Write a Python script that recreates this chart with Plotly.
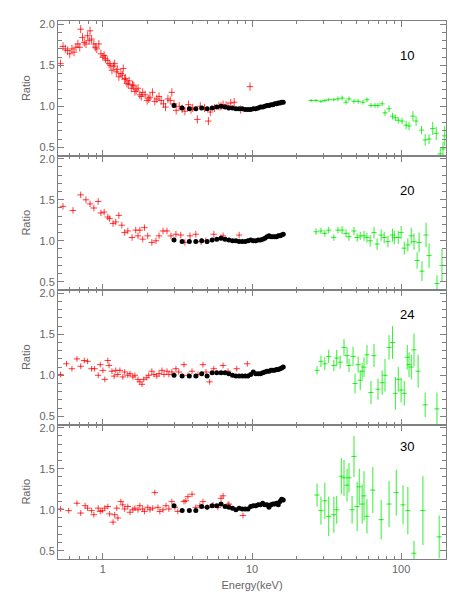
import plotly.graph_objects as go
from plotly.subplots import make_subplots

# panel labels
panel_labels = ["10", "20", "24", "30"]

# black points (same energy grid in all panels)
black_e = [3.0, 3.4, 3.8, 4.2, 4.6, 5.0, 5.4, 5.8, 6.2, 6.6, 7.0, 7.4, 7.8, 8.2, 8.6, 9.0, 9.4,
           9.8, 10.2, 10.6, 11.0, 11.4, 11.8, 12.2, 12.6, 13.0, 13.4, 13.8, 14.2, 14.6, 15.0,
           15.4, 15.8, 16.2]
black_r_10 = [1.01, 0.98, 0.97, 0.97, 0.98, 0.97, 0.98, 0.99, 1.00, 0.99, 0.98, 0.98, 0.97, 0.97,
              0.97, 0.96, 0.96, 0.96, 0.97, 0.97, 0.98, 0.99, 0.99, 1.00, 1.01, 1.01, 1.02, 1.02,
              1.03, 1.03, 1.04, 1.04, 1.05, 1.05]
black_r_20 = [1.01, 0.99, 0.99, 0.99, 1.00, 0.99, 1.01, 1.02, 1.03, 1.02, 1.01, 1.00, 1.00, 0.99,
              0.99, 0.99, 1.00, 1.01, 1.00, 1.00, 1.01, 1.01, 1.02, 1.03, 1.05, 1.06, 1.05, 1.05,
              1.05, 1.05, 1.06, 1.06, 1.07, 1.08]
black_r_24 = [1.00, 0.99, 0.99, 0.99, 1.02, 0.99, 1.03, 1.03, 1.03, 1.03, 1.02, 1.00, 0.99, 0.99,
              0.99, 0.99, 0.99, 1.01, 1.04, 1.02, 1.02, 1.02, 1.03, 1.04, 1.05, 1.05, 1.06, 1.06,
              1.06, 1.07, 1.07, 1.08, 1.09, 1.10]
black_r_30 = [1.05, 0.99, 0.99, 0.99, 1.04, 1.03, 1.05, 1.05, 1.07, 1.04, 1.03, 1.02, 1.00, 1.02,
              1.01, 1.01, 1.01, 1.04, 1.05, 1.05, 1.06, 1.06, 1.08, 1.06, 1.06, 1.03, 1.06, 1.07,
              1.07, 1.08, 1.06, 1.10, 1.13, 1.12]

# red crosses
red_e_10 = [0.52, 0.54, 0.56, 0.58, 0.60, 0.62, 0.64, 0.66, 0.68, 0.70, 0.71, 0.73, 0.75, 0.77,
            0.79, 0.81, 0.82, 0.84, 0.87, 0.89, 0.91, 0.94, 0.97, 1.00, 1.02, 1.04, 1.07, 1.10,
            1.12, 1.15, 1.18, 1.20, 1.23, 1.25, 1.28, 1.32, 1.35, 1.37, 1.40, 1.42, 1.45, 1.48,
            1.50, 1.55, 1.58, 1.61, 1.64, 1.67, 1.72, 1.77, 1.81, 1.85, 1.92, 1.98, 2.03, 2.07,
            2.15, 2.23, 2.30, 2.38, 2.46, 2.55, 2.63, 2.73, 2.83, 2.90, 3.00, 3.10, 3.25, 3.40,
            3.55, 3.75, 3.90, 4.00, 4.30, 4.50, 4.80, 5.10, 5.25, 5.60, 6.00, 6.20, 6.40, 6.70,
            6.90, 7.20, 7.60, 8.40, 9.70]
red_r_10 = [1.52, 1.73, 1.70, 1.68, 1.64, 1.70, 1.66, 1.72, 1.76, 1.72, 1.94, 1.84, 1.78, 1.76,
            1.86, 1.80, 1.92, 1.82, 1.76, 1.72, 1.70, 1.76, 1.64, 1.60, 1.62, 1.58, 1.56, 1.52,
            1.50, 1.44, 1.49, 1.52, 1.42, 1.45, 1.36, 1.40, 1.38, 1.46, 1.33, 1.34, 1.28, 1.27,
            1.31, 1.22, 1.26, 1.25, 1.18, 1.20, 1.22, 1.14, 1.12, 1.17, 1.14, 1.07, 1.09, 1.11,
            1.17, 1.06, 1.09, 1.12, 1.07, 1.03, 0.99, 1.09, 1.07, 1.17, 1.03, 0.95, 1.00, 0.97,
            0.94, 1.02, 0.96, 0.98, 0.84, 1.00, 0.98, 0.82, 0.93, 0.98, 1.00, 1.00, 1.02, 1.01,
            1.00, 1.04, 1.05, 0.96, 1.24]

red_e_20 = [0.54, 0.63, 0.71, 0.77, 0.82, 0.87, 0.93, 0.97, 1.02, 1.08, 1.11, 1.17, 1.22, 1.28,
            1.34, 1.40, 1.47, 1.57, 1.66, 1.72, 1.77, 1.85, 1.90, 2.00, 2.13, 2.27, 2.38, 2.53,
            2.69, 2.86, 3.09, 3.33, 3.55, 3.84, 4.20, 4.55, 4.90, 5.55, 6.20, 6.40, 8.20]
red_r_20 = [1.42, 1.37, 1.56, 1.50, 1.45, 1.40, 1.48, 1.34, 1.35, 1.29, 1.27, 1.21, 1.23, 1.31,
            1.19, 1.10, 1.12, 1.04, 1.13, 1.06, 1.13, 1.02, 1.16, 1.06, 0.98, 1.00, 1.06, 1.12,
            1.12, 1.06, 1.08, 1.07, 0.98, 1.06, 1.08, 0.99, 1.00, 1.08, 1.04, 1.06, 1.07]

red_e_24 = [0.52, 0.57, 0.62, 0.67, 0.71, 0.75, 0.79, 0.84, 0.88, 0.93, 0.96, 1.00, 1.03, 1.08,
            1.10, 1.15, 1.19, 1.22, 1.26, 1.30, 1.36, 1.40, 1.47, 1.52, 1.59, 1.64, 1.72, 1.77,
            1.83, 1.88, 1.97, 2.03, 2.13, 2.20, 2.30, 2.38, 2.49, 2.57, 2.69, 2.77, 2.90, 3.09,
            3.23, 3.50, 3.72, 3.96, 4.34, 4.69, 4.92, 5.20, 5.55, 6.40, 6.90, 7.90, 9.30]
red_r_24 = [1.01, 1.14, 1.08, 1.20, 1.11, 1.18, 1.17, 1.08, 1.08, 1.00, 1.13, 1.06, 0.95, 1.18,
            1.12, 1.05, 0.99, 1.06, 1.01, 1.06, 0.98, 1.04, 1.00, 1.02, 0.98, 1.00, 0.95, 0.92,
            0.89, 0.95, 0.97, 1.00, 1.05, 1.01, 0.99, 1.02, 1.06, 1.01, 1.05, 1.01, 1.04, 1.08,
            1.04, 1.13, 1.00, 1.05, 1.01, 1.13, 1.04, 0.92, 1.08, 1.12, 1.05, 1.08, 1.14]

red_e_30 = [0.52, 0.59, 0.67, 0.71, 0.76, 0.79, 0.84, 0.87, 0.93, 0.96, 0.99, 1.03, 1.08, 1.11,
            1.17, 1.20, 1.24, 1.26, 1.32, 1.36, 1.40, 1.47, 1.52, 1.59, 1.64, 1.72, 1.77, 1.85,
            1.90, 2.00, 2.07, 2.16, 2.23, 2.34, 2.41, 2.53, 2.65, 2.77, 2.90, 3.04, 3.18, 3.50,
            3.60, 3.72, 3.96, 4.20, 4.47, 4.69, 5.00, 5.47, 5.90, 6.20, 6.40, 6.90, 7.00, 8.70]
red_r_30 = [1.01, 0.99, 1.08, 0.96, 1.05, 1.02, 0.99, 0.94, 1.02, 0.98, 0.99, 1.02, 1.04, 0.95,
            0.85, 0.94, 1.02, 0.90, 1.10, 1.06, 1.01, 1.04, 0.97, 1.00, 1.02, 1.00, 1.05, 1.01,
            0.98, 1.03, 1.00, 1.02, 1.21, 1.03, 0.98, 1.00, 1.05, 1.01, 1.10, 1.03, 0.98, 1.10,
            1.11, 1.16, 1.19, 1.03, 1.05, 1.10, 1.03, 1.06, 1.03, 1.14, 1.17, 1.06, 1.07, 0.93]

# green crosses
green_e_10 = [24.9, 26.9, 29.0, 30.8, 32.7, 35.4, 37.7, 40.2, 42.7, 44.7, 48.3, 51.5, 55.5, 59.0,
              62.8, 66.8, 70.0, 74.6, 78.0, 83.0, 87.6, 91.5, 95.7, 101.5, 108, 113, 120, 126,
              137, 145, 154, 163, 172, 183, 191, 196]
green_r_10 = [1.07, 1.07, 1.06, 1.07, 1.08, 1.08, 1.09, 1.10, 1.05, 1.09, 1.06, 1.06, 1.05, 1.08,
              1.01, 1.01, 1.01, 1.03, 0.92, 0.97, 0.88, 0.86, 0.83, 0.82, 0.77, 0.76, 0.88, 0.82,
              0.71, 0.59, 0.60, 0.73, 0.67, 0.42, 0.48, 0.64]
green_err_10 = [0.02, 0.02, 0.02, 0.02, 0.02, 0.02, 0.03, 0.03, 0.03, 0.03, 0.03, 0.03, 0.03, 0.03,
                0.03, 0.03, 0.03, 0.03, 0.04, 0.04, 0.04, 0.04, 0.04, 0.04, 0.05, 0.05, 0.06, 0.06,
                0.05, 0.07, 0.06, 0.08, 0.08, 0.06, 0.09, 0.12]

green_e_20 = [26.9, 29.0, 30.8, 32.7, 35.4, 37.7, 40.2, 42.7, 44.7, 48.3, 50.7, 53.2, 56.4, 59.0,
              62.0, 65.8, 69.0, 73.5, 77.0, 81.6, 87.6, 90.0, 95.7, 100, 105, 111, 117, 122, 128,
              132, 138, 147, 154, 174, 188]
green_r_20 = [1.11, 1.12, 1.09, 1.13, 1.04, 1.13, 1.13, 1.09, 1.05, 1.12, 1.04, 1.06, 1.06, 1.04,
              1.00, 1.10, 0.96, 1.07, 1.04, 0.99, 1.07, 1.04, 1.04, 1.10, 0.91, 0.95, 1.06, 0.99,
              0.76, 0.98, 0.63, 1.07, 0.82, 0.48, 0.70]
green_err_20 = [0.04, 0.04, 0.04, 0.04, 0.04, 0.04, 0.05, 0.05, 0.05, 0.05, 0.05, 0.05, 0.06, 0.06,
                0.07, 0.07, 0.07, 0.07, 0.07, 0.07, 0.08, 0.08, 0.08, 0.08, 0.08, 0.08, 0.10, 0.10,
                0.10, 0.12, 0.12, 0.15, 0.15, 0.10, 0.20]

green_e_24 = [27.3, 29.0, 30.8, 32.7, 35.4, 37.0, 39.0, 41.4, 43.4, 44.7, 47.6, 49.1, 51.5, 53.2,
              54.8, 56.4, 59.0, 62.8, 65.8, 70.0, 74.6, 78.0, 83.0, 87.6, 91.5, 95.7, 100, 105,
              110, 113, 117, 122, 130, 145, 174]
green_r_24 = [1.06, 1.17, 1.14, 1.23, 1.12, 1.21, 1.16, 1.34, 1.24, 1.12, 1.23, 0.90, 1.13, 0.94,
              1.05, 1.10, 1.25, 0.79, 1.24, 0.83, 0.91, 1.00, 1.34, 1.40, 0.78, 0.95, 0.82, 0.78,
              1.22, 1.13, 1.10, 1.31, 1.05, 0.64, 0.59]
green_err_24 = [0.05, 0.07, 0.08, 0.08, 0.07, 0.10, 0.08, 0.10, 0.10, 0.08, 0.12, 0.12, 0.10, 0.12,
                0.10, 0.12, 0.12, 0.14, 0.14, 0.13, 0.15, 0.20, 0.15, 0.20, 0.20, 0.15, 0.15, 0.15,
                0.15, 0.15, 0.15, 0.20, 0.20, 0.15, 0.20]

green_e_30 = [27.3, 29.0, 30.8, 32.7, 35.4, 37.0, 39.7, 41.4, 43.4, 44.7, 46.9, 48.3, 50.7, 52.4,
              54.8, 56.4, 59.0, 64.6, 73.5, 83.0, 92.8, 103, 111, 122, 140, 180]
green_r_30 = [1.18, 0.99, 1.11, 0.92, 0.94, 1.00, 1.41, 1.39, 1.30, 1.39, 1.00, 1.65, 1.04, 1.28,
              1.07, 1.17, 0.92, 1.24, 0.88, 1.07, 1.21, 1.06, 0.99, 0.47, 0.99, 0.67]
green_err_30 = [0.14, 0.17, 0.22, 0.24, 0.22, 0.17, 0.22, 0.22, 0.20, 0.18, 0.17, 0.25, 0.30, 0.22,
                0.24, 0.30, 0.21, 0.28, 0.24, 0.28, 0.28, 0.24, 0.29, 0.15, 0.42, 0.26]

panels = [
    (red_e_10, red_r_10, 0.05, black_r_10, green_e_10, green_r_10, green_err_10),
    (red_e_20, red_r_20, 0.04, black_r_20, green_e_20, green_r_20, green_err_20),
    (red_e_24, red_r_24, 0.035, black_r_24, green_e_24, green_r_24, green_err_24),
    (red_e_30, red_r_30, 0.035, black_r_30, green_e_30, green_r_30, green_err_30),
]
label_y = [0.74, 0.74, 0.82, 0.84]

RED = "rgba(255,0,0,0.75)"
GREEN = "rgba(0,235,0,0.8)"
AXIS = "#808080"
FONT = "Liberation Sans, Arial, sans-serif"

fig = make_subplots(rows=4, cols=1, shared_xaxes=True, vertical_spacing=0)

for i, (re_, rr, rerr, br, ge, gr, gerr) in enumerate(panels, start=1):
    fig.add_hline(y=1.0, line=dict(color="#999999", width=1, dash="dot"), layer="below", row=i, col=1)
    fig.add_trace(go.Scatter(x=re_, y=rr, mode="markers", marker=dict(size=1, color=RED),
                             error_x=dict(type="percent", value=5, color=RED, thickness=1, width=0),
                             error_y=dict(type="constant", value=rerr, color=RED, thickness=1, width=0),
                             showlegend=False), row=i, col=1)
    fig.add_trace(go.Scatter(x=ge, y=gr, mode="markers", marker=dict(size=1, color=GREEN),
                             error_x=dict(type="percent", value=4, color=GREEN, thickness=1, width=0),
                             error_y=dict(type="data", array=gerr, color=GREEN, thickness=1, width=0),
                             showlegend=False), row=i, col=1)
    fig.add_trace(go.Scatter(x=black_e, y=br, mode="markers", marker=dict(size=5, color="black"),
                             showlegend=False), row=i, col=1)
    fig.add_annotation(text=panel_labels[i - 1], xref="x domain" if i == 1 else f"x{i} domain",
                       yref="y domain" if i == 1 else f"y{i} domain", x=0.9, y=label_y[i - 1],
                       xanchor="center", yanchor="middle",
                       showarrow=False, font=dict(family=FONT, size=13, color="black"))

minor_x = [0.5, 0.6, 0.7, 0.8, 0.9, 2, 3, 4, 5, 6, 7, 8, 9, 20, 30, 40, 50, 60, 70, 80, 90, 200]

fig.update_xaxes(type="log", range=[-0.30103, 2.30103], showline=True, linecolor=AXIS, linewidth=1,
                 mirror="allticks", ticks="inside", ticklen=6, tickcolor=AXIS,
                 tickvals=[1, 10, 100], ticktext=["1", "10", "100"],
                 minor=dict(tickvals=minor_x, ticks="inside", ticklen=3, tickcolor=AXIS),
                 showgrid=False, zeroline=False,
                 tickfont=dict(family=FONT, size=11, color="#666666"))
fig.update_xaxes(showticklabels=False, row=1, col=1)
fig.update_xaxes(showticklabels=False, row=2, col=1)
fig.update_xaxes(showticklabels=False, row=3, col=1)
fig.update_xaxes(title=dict(text="Energy(keV)", font=dict(family=FONT, size=11, color="#666666"),
                            standoff=7), row=4, col=1)

fig.update_yaxes(range=[0.40, 2.04], showline=True, linecolor=AXIS, linewidth=1,
                 mirror="allticks", ticks="inside", ticklen=6, tickcolor=AXIS,
                 tickvals=[0.5, 1.0, 1.5, 2.0], ticktext=["0.5", "1.0", "1.5", "2.0"],
                 minor=dict(dtick=0.1, ticks="inside", ticklen=4, tickcolor=AXIS),
                 showgrid=False, zeroline=False,
                 tickfont=dict(family=FONT, size=11, color="#666666"),
                 title=dict(text="Ratio", font=dict(family=FONT, size=11, color="#666666"), standoff=6))

fig.update_layout(width=463, height=596, margin=dict(l=50, r=25, t=10, b=45),
                  plot_bgcolor="white", paper_bgcolor="white")

fig.write_html("out.html")
